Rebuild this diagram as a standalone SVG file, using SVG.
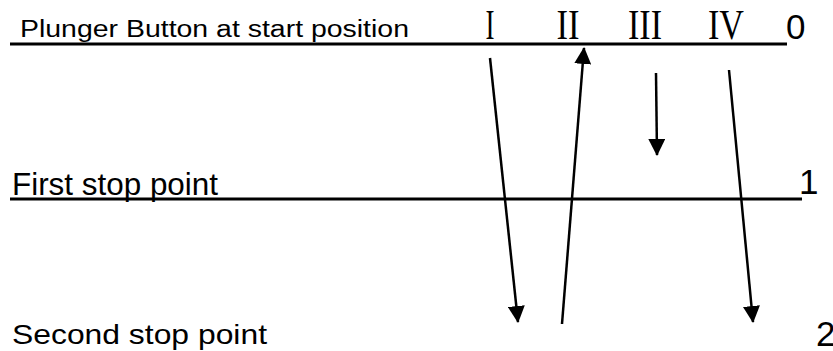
<svg xmlns="http://www.w3.org/2000/svg" width="833" height="351" viewBox="0 0 833 351">
  <style>
    .lbl { font-family: "Liberation Sans", Arial, sans-serif; fill: #000; }
    .num { font-family: "Liberation Sans", Arial, sans-serif; font-size: 35px; fill: #000; }
    .rom { font-family: "Liberation Serif", "Times New Roman", serif; font-size: 42px; fill: #000; text-anchor: middle; }
    .lvl { stroke: #000; stroke-width: 3; fill: none; }
    .arr { stroke: #000; stroke-width: 2.5; fill: none; marker-end: url(#head); }
  </style>
  <defs>
    <marker id="head" markerUnits="userSpaceOnUse" markerWidth="17" markerHeight="17" viewBox="0 0 17 17" refX="16" refY="8.5" orient="auto">
      <path d="M0,0 L17,8.5 L0,17 Z" fill="#000"/>
    </marker>
  </defs>
  <rect width="833" height="351" fill="#fff"/>

  <g id="level0">
    <line class="lvl" x1="10" y1="44" x2="787" y2="44"/>
    <text class="lbl" x="20" y="37" font-size="23" textLength="389" lengthAdjust="spacingAndGlyphs">Plunger Button at start position</text>
    <text class="num" x="786" y="39">0</text>
  </g>

  <g id="numerals">
    <text class="rom" x="490" y="39" textLength="9" lengthAdjust="spacingAndGlyphs">I</text>
    <text class="rom" x="568" y="39" textLength="23" lengthAdjust="spacingAndGlyphs">II</text>
    <text class="rom" x="645" y="39" textLength="34" lengthAdjust="spacingAndGlyphs">III</text>
    <text class="rom" x="726" y="39" textLength="36" lengthAdjust="spacingAndGlyphs">IV</text>
  </g>

  <g id="level1">
    <line class="lvl" x1="10" y1="199" x2="802" y2="199"/>
    <text class="lbl" x="12" y="195" font-size="31" textLength="206" lengthAdjust="spacingAndGlyphs">First stop point</text>
    <text class="num" x="799" y="194">1</text>
  </g>

  <g id="level2">
    <text class="lbl" x="12" y="344" font-size="28" textLength="255" lengthAdjust="spacingAndGlyphs">Second stop point</text>
    <text class="num" x="816" y="346">2</text>
  </g>

  <g id="connectors">
    <line class="arr" x1="490" y1="58" x2="518" y2="322"/>
    <line class="arr" x1="562" y1="324" x2="584" y2="48"/>
    <line class="arr" x1="656" y1="73" x2="657" y2="155"/>
    <line class="arr" x1="729" y1="70" x2="753" y2="322"/>
  </g>
</svg>
